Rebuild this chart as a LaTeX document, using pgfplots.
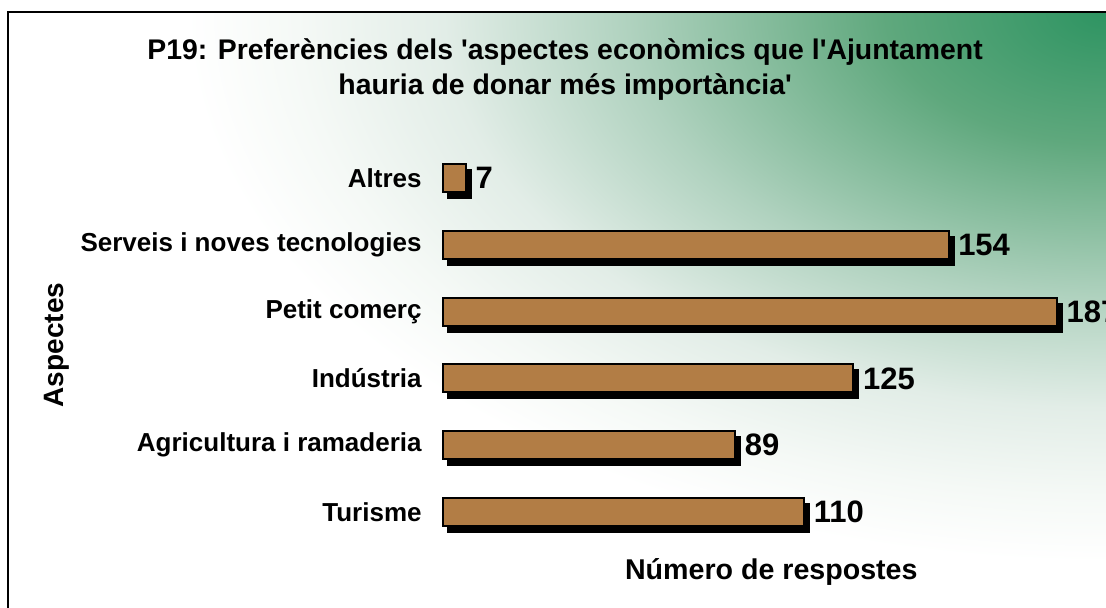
\documentclass[border=0pt]{standalone}
\usepackage{pgfplots}
\pgfplotsset{compat=1.18}
\usepackage{fontspec}
\setmainfont{Liberation Sans}
\definecolor{gUR}{HTML}{2E9462}
\definecolor{gM1}{HTML}{5FA87D}
\definecolor{gM2}{HTML}{B0D2BF}
\definecolor{gM3}{HTML}{E2EDE7}
\definecolor{gM4}{HTML}{F5F9F6}
\definecolor{woodA}{HTML}{B27D45}
\pgfdeclareradialshading{bgshade}{\pgfpoint{0bp}{0bp}}{color(0bp)=(gUR); color(6bp)=(gM1); color(13bp)=(gM2); color(18bp)=(gM3); color(22bp)=(gM4); color(25bp)=(white); color(50bp)=(white)}
\begin{document}
\begin{tikzpicture}
\useasboundingbox (0pt,0pt) rectangle (553pt,303.5pt);
\fill[white] (0pt,0pt) rectangle (553pt,303.5pt);
\begin{scope}
\clip (4pt,-5pt) rectangle (560pt,297.5pt);
\shade[shading=bgshade] (553pt,297.5pt) ellipse (460pt and 275pt);
\end{scope}
\draw[line width=0.8pt] (4pt,-5pt) -- (4pt,297.5pt) -- (560pt,297.5pt);
\begin{axis}[
  at={(221.5pt,30.8pt)}, anchor=south west,
  scale only axis, width=328.3pt, height=200.4pt,
  xmin=0, xmax=200, ymin=-0.5, ymax=5.5,
  xbar, bar width=14pt,
  axis line style={draw=none},
  major tick length=0pt,
  xtick=\empty,
  ytick={0,1,2,3,4,5},
  yticklabels={Turisme, Agricultura i ramaderia, Indústria, Petit comerç, Serveis i noves tecnologies, Altres},
  yticklabel style={font=\bfseries\fontsize{13}{15}\selectfont, inner sep=0pt, xshift=-10.5pt},
  clip=false,
  /pgf/number format/assume math mode=true,
  title={P19: Preferències dels \textquotesingle aspectes econòmics que l\textquotesingle Ajuntament\\hauria de donar més importància\textquotesingle},
  title style={at={(axis description cs:0.186,1.157)}, anchor=center, align=center, font=\bfseries\fontsize{14.2}{17.5}\selectfont},
  xlabel={Número de respostes},
  xlabel style={at={(axis description cs:0.5,-0.066)}, anchor=center, font=\bfseries\fontsize{14.3}{16}\selectfont},
  ylabel={Aspectes},
  ylabel style={at={(axis description cs:-0.588,0.5)}, anchor=center, rotate=0, font=\bfseries\fontsize{14}{16}\selectfont},
]
\addplot[xbar, bar shift=-3pt, xshift=2.5pt, fill=black, draw=black, line width=1pt, forget plot]
  coordinates {(110,0) (89,1) (125,2) (187,3) (154,4) (7,5)};
\addplot[xbar, bar shift=0pt, fill=woodA, draw=black, line width=1pt,
  nodes near coords,
  nodes near coords style={font=\bfseries\fontsize{15.5}{17}\selectfont, anchor=west, xshift=1pt, text=black}]
  coordinates {(110,0) (89,1) (125,2) (187,3) (154,4) (7,5)};
\end{axis}
\end{tikzpicture}
\end{document}
